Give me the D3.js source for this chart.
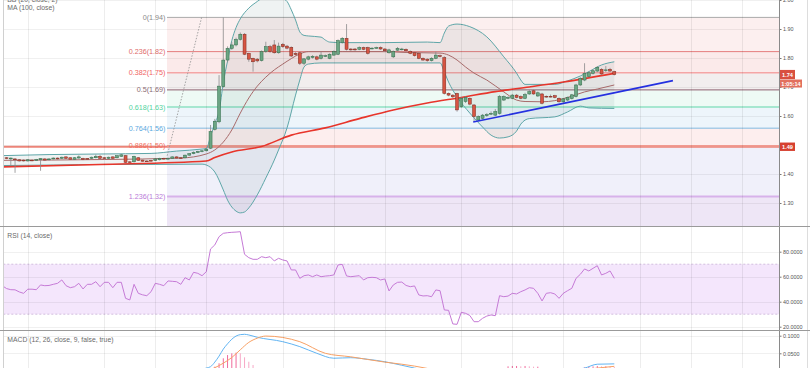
<!DOCTYPE html>
<html><head><meta charset="utf-8">
<script src="https://cdn.jsdelivr.net/npm/d3@7"></script>
<style>
html,body{margin:0;padding:0;background:#fff;overflow:hidden;}
svg{display:block;font-family:"Liberation Sans",Arial,sans-serif;}
</style></head><body>
<svg id="c" width="810" height="368"></svg>
<script>
// ---------------- DATA ----------------
const candleOpen = [
1.455,1.456,1.452,1.452,1.449,1.448,1.445,1.448,1.447,1.449,
1.452,1.449,1.452,1.455,1.454,1.459,1.456,1.451,1.455,1.454,
1.454,1.454,1.456,1.461,1.456,1.454,1.459,1.456,1.461,1.463,
1.442,1.442,1.456,1.448,1.445,1.447,1.447,1.449,1.454,1.452,
1.454,1.459,1.456,1.456,1.465,1.470,1.474,1.477,1.480,1.489,
1.554,1.580,1.701,1.793,1.833,1.845,1.864,1.882,1.816,1.799,
1.796,1.791,1.822,1.839,1.845,1.818,1.847,1.841,1.837,1.816,
1.818,1.782,1.796,1.802,1.804,1.799,1.806,1.799,1.810,1.813,
1.853,1.868,1.831,1.831,1.830,1.836,1.836,1.832,1.835,1.836,
1.831,1.818,1.804,1.827,1.829,1.830,1.822,1.818,1.816,1.799,
1.796,1.791,1.799,1.808,1.801,1.678,1.672,1.678,1.632,1.650,
1.661,1.638,1.586,1.592,1.601,1.607,1.603,1.609,1.655,1.662,
1.661,1.672,1.667,1.661,1.676,1.687,1.669,1.676,1.668,1.668,
1.670,1.661,1.649,1.655,1.660,1.667,1.707,1.724,1.736,1.747,
1.755,1.761,1.758,1.761,1.753];
const candleHigh = [
1.460,1.458,1.457,1.454,1.451,1.450,1.451,1.450,1.452,1.455,
1.454,1.454,1.457,1.457,1.460,1.461,1.457,1.458,1.464,1.456,
1.455,1.460,1.467,1.466,1.458,1.460,1.461,1.465,1.469,1.465,
1.444,1.463,1.458,1.450,1.447,1.449,1.454,1.456,1.456,1.456,
1.461,1.461,1.458,1.467,1.472,1.478,1.480,1.482,1.488,1.569,
1.590,1.741,1.940,1.840,1.855,1.870,1.888,1.886,1.818,1.801,
1.800,1.826,1.856,1.845,1.862,1.853,1.852,1.845,1.840,1.820,
1.822,1.800,1.808,1.810,1.808,1.822,1.812,1.816,1.826,1.864,
1.872,1.917,1.834,1.834,1.840,1.839,1.839,1.837,1.839,1.840,
1.834,1.832,1.826,1.838,1.835,1.833,1.826,1.821,1.819,1.802,
1.799,1.803,1.822,1.812,1.806,1.681,1.675,1.680,1.666,1.668,
1.664,1.641,1.602,1.607,1.610,1.616,1.624,1.672,1.671,1.668,
1.676,1.676,1.671,1.680,1.690,1.691,1.684,1.680,1.671,1.674,
1.673,1.664,1.662,1.667,1.676,1.711,1.734,1.782,1.754,1.760,
1.772,1.765,1.772,1.766,1.756];
const candleLow = [
1.452,1.451,1.431,1.404,1.443,1.443,1.443,1.444,1.445,1.411,
1.446,1.447,1.450,1.450,1.452,1.452,1.449,1.449,1.453,1.448,
1.449,1.452,1.454,1.452,1.452,1.452,1.452,1.454,1.459,1.438,
1.438,1.440,1.445,1.443,1.443,1.443,1.445,1.447,1.450,1.450,
1.452,1.453,1.452,1.454,1.463,1.468,1.472,1.475,1.478,1.486,
1.550,1.575,1.698,1.785,1.828,1.840,1.860,1.810,1.787,1.753,
1.785,1.788,1.818,1.818,1.815,1.815,1.835,1.830,1.803,1.808,
1.776,1.775,1.792,1.798,1.792,1.795,1.803,1.796,1.808,1.810,
1.850,1.826,1.825,1.825,1.827,1.827,1.812,1.830,1.832,1.828,
1.822,1.815,1.800,1.824,1.826,1.822,1.813,1.805,1.796,1.790,
1.787,1.788,1.796,1.802,1.674,1.668,1.662,1.615,1.628,1.645,
1.637,1.580,1.582,1.588,1.597,1.603,1.600,1.605,1.652,1.658,
1.658,1.661,1.658,1.658,1.673,1.673,1.666,1.640,1.663,1.664,
1.661,1.646,1.646,1.652,1.657,1.664,1.703,1.720,1.733,1.743,
1.751,1.742,1.752,1.752,1.740];
const candleClose = [
1.457,1.454,1.455,1.449,1.445,1.445,1.449,1.446,1.450,1.453,
1.448,1.452,1.455,1.452,1.458,1.454,1.451,1.456,1.459,1.450,
1.451,1.458,1.461,1.454,1.454,1.458,1.454,1.463,1.466,1.440,
1.440,1.461,1.447,1.444,1.444,1.445,1.452,1.454,1.452,1.454,
1.459,1.455,1.454,1.465,1.470,1.475,1.478,1.480,1.486,1.546,
1.582,1.703,1.793,1.833,1.845,1.864,1.882,1.813,1.796,1.787,
1.790,1.822,1.839,1.822,1.818,1.841,1.839,1.834,1.807,1.812,
1.782,1.797,1.804,1.806,1.796,1.810,1.808,1.813,1.822,1.860,
1.868,1.830,1.828,1.828,1.836,1.830,1.816,1.834,1.836,1.831,
1.825,1.828,1.822,1.833,1.831,1.825,1.816,1.808,1.799,1.793,
1.791,1.799,1.810,1.805,1.678,1.672,1.666,1.621,1.661,1.664,
1.641,1.598,1.598,1.603,1.605,1.609,1.615,1.667,1.667,1.664,
1.672,1.664,1.661,1.674,1.684,1.676,1.680,1.644,1.666,1.667,
1.664,1.649,1.659,1.664,1.673,1.707,1.730,1.747,1.749,1.756,
1.768,1.745,1.759,1.755,1.743];

// Bollinger Bands (20, close, 2): [candle index, price]
const bbUpperIdx = [-1,11,23,35,41,47,48,49,50,51,52,53,54,55,56,58,60,62,64,66,67,68,69,70,71,72,75,76,77,80,90,100,103,104,105,107,110,114,118,121,122,123,130,133,136,138,141,144];
const bbUpperVal = [1.463,1.467,1.469,1.471,1.479,1.486,1.488,1.530,1.575,1.615,1.715,1.790,1.860,1.905,1.935,1.972,1.995,2.015,2.025,2.005,1.995,1.966,1.931,1.890,1.878,1.876,1.872,1.862,1.855,1.853,1.853,1.855,1.853,1.886,1.910,1.917,1.908,1.873,1.804,1.748,1.724,1.709,1.709,1.721,1.738,1.753,1.776,1.787];
const bbLowerIdx = [-1,12,24,36,47,48,50,52,53,55,56,57,58,60,62,64,65,67,69,70,71,72,75,103,104,105,107,110,113,115,117,119,121,122,123,124,130,133,136,138,144];
const bbLowerVal = [1.429,1.431,1.433,1.433,1.434,1.431,1.407,1.345,1.310,1.272,1.266,1.269,1.283,1.328,1.386,1.448,1.483,1.559,1.672,1.724,1.769,1.779,1.783,1.783,1.752,1.717,1.666,1.610,1.562,1.534,1.524,1.528,1.548,1.572,1.586,1.591,1.597,1.614,1.634,1.628,1.626];
const bbMidIdx = [-1,24,42,48,50,52,54,56,58,60,62,64,66,68,70,72,80,90,95,103,105,107,109,111,114,118,121,123,127,130,133,137,140,144];
const bbMidVal = [1.447,1.450,1.455,1.469,1.483,1.510,1.552,1.610,1.662,1.703,1.734,1.759,1.779,1.798,1.814,1.822,1.822,1.822,1.819,1.817,1.810,1.793,1.769,1.748,1.724,1.683,1.655,1.650,1.649,1.653,1.664,1.683,1.693,1.707];

// MA (100, close)
const maIdx = [-1,23,48,50,54,61,68,76,84,92,100,108,116,124,132,144];
const maVal = [1.424,1.433,1.445,1.457,1.476,1.495,1.534,1.559,1.591,1.621,1.645,1.664,1.684,1.700,1.717,1.747];

// Fibonacci retracement
const fibLevels = [0,0.236,0.382,0.5,0.618,0.764,0.886,1.236];
const fibPrices = [1.940,1.822,1.749,1.690,1.631,1.558,1.497,1.322];
const fibStartIdx = 38.75;
const fibTrendIdx = [38.8,46.9];
const fibTrendVal = [1.463,1.940];

// drawn trend line & horizontal line
const trendIdx = [110.8,157.8];
const trendVal = [1.579,1.722];
const hlinePrice = 1.494;
const hlineLabel = "1.49";
const lastPriceLabel = "1.74";
const countdownLabel = "1:05:14";

// RSI (14, close)
const rsiVal = [
52.8,50.5,49.6,49.5,47.8,46.7,50.0,50.0,49.6,53.4,
52.8,53.0,53.9,54.7,57.4,52.8,51.2,52.0,54.7,50.2,
53.9,53.9,56.0,52.0,55.5,55.5,51.2,55.5,55.5,42.7,
41.4,53.9,46.7,45.5,44.8,48.0,54.7,53.9,52.8,56.6,
56.3,56.0,53.9,59.2,57.4,63.5,62.7,60.8,64.0,82.2,
85.4,92.0,94.7,95.2,95.5,95.7,96.0,77.9,75.2,73.9,
73.9,76.0,75.2,76.0,72.6,74.7,73.4,72.6,65.4,65.4,
58.7,60.8,61.4,60.0,61.4,60.0,60.5,60.8,61.4,69.4,
69.9,60.6,60.0,60.4,60.8,57.4,59.2,59.5,59.2,57.4,
58.2,48.6,53.4,55.5,55.7,53.0,52.0,52.6,45.4,44.6,
44.8,44.0,49.4,48.8,33.4,33.1,22.2,21.9,31.5,30.7,
29.0,24.0,24.0,26.7,28.5,29.4,28.8,44.8,44.0,44.5,
46.7,46.2,48.0,49.4,51.2,50.7,46.7,40.6,46.7,47.2,
46.2,42.7,46.7,48.8,50.7,58.7,61.9,66.2,64.6,66.7,
68.8,61.4,62.7,64.6,58.7];

// MACD (12, 26, close, 9)
const macdIdx = [40,44,46,48,49,50,51,52,53,54,55,56,57,58,60,66,70,74,78,82,86,90,94,97,102,106,120,130,134,137,140,144];
const macdVal = [-0.004,0.000,0.002,0.008,0.012,0.025,0.042,0.062,0.077,0.090,0.099,0.103,0.104,0.102,0.0955,0.083,0.069,0.050,0.036,0.0375,0.033,0.026,0.016,0.008,-0.005,-0.040,-0.030,-0.005,0.002,0.008,0.019,0.020];
const signalIdx = [44,48,50,52,54,56,58,60,62,64,66,70,76,82,90,94,100,104,110,130,136,138,140,144];
const signalVal = [-0.004,0.001,0.009,0.022,0.038,0.060,0.081,0.093,0.099,0.098,0.095,0.083,0.050,0.040,0.025,0.019,0.007,-0.005,-0.020,-0.010,0.002,0.005,0.008,0.013];
const histIdx = [50,51,52,53,54,55,56,57,58,59,60,119,120,121,122,123,124,125,126,137,138,139,140,141,142,143,144];
const histVal = [0.012,0.0216,0.0358,0.045,0.050,0.052,0.050,0.0386,0.026,0.0168,0.008,0.013,0.014,0.014,0.013,0.014,0.013,0.012,0.012,0.010,0.012,0.013,0.014,0.013,0.013,0.012,0.011];

// ticks
const priceTicks = [2.0,1.9,1.8,1.7,1.6,1.5,1.4,1.3];
const rsiTicks = [80,60,40,20];
const macdTicks = [0.1,0.05];
const gridIdx = [6,24,36,48,66,78,90,108,120,132,150,162,174];

// ---------------- LAYOUT ----------------
const W = 810, H = 368;
const plotL = 3.3, plotR = 779;
const mainBot = 226, rsiTop = 226, rsiBot = 330.7, macdTop = 330.7;

const x = d3.scaleLinear().domain([0,144]).range([2.3,614.3]);
const yP = d3.scaleLinear().domain([2.0,1.2]).range([0,232]);
const yR = d3.scaleLinear().domain([100,0]).range([226.7,351.7]);
const yM = d3.scaleLinear().domain([0.1,0]).range([335.7,370.9]);

const svg = d3.select('#c');
const defs = svg.append('defs');
function clip(id,x0,y0,x1,y1){
  defs.append('clipPath').attr('id',id).append('rect')
    .attr('x',x0).attr('y',y0).attr('width',x1-x0).attr('height',y1-y0);
}
clip('cMain',plotL,0,plotR,mainBot);
clip('cRsi',plotL,rsiTop,plotR,rsiBot);
clip('cMacd',plotL,macdTop,plotR,H);
clip('cAll',plotL,0,plotR,H);

svg.append('rect').attr('width',W).attr('height',H).attr('fill','#fff');

const gMain = svg.append('g').attr('clip-path','url(#cMain)');
const gRsi = svg.append('g').attr('clip-path','url(#cRsi)');
const gMacd = svg.append('g').attr('clip-path','url(#cMacd)');

// fib backgrounds
const fibBg = ['#fcefef','#fbeaea','#f2eeee','#eefaf5','#edf5fb','#fdeeee','#f0f0fa','#eee6f6'];
const fibLine = ['#aaaaaa','#e57c7c','#f5a5a5','#8e6270','#a6e7d0','#80b9e0','#f09a90','#d7b2ea'];
const fibLineW = [1,1,1.6,1,2,1,1.6,2];
const fibText = ['#8a8a8a','#e06a6a','#f06262','#8a6a72','#52d3a0','#5aa8de','#f26e60','#b97ad8'];
const fx0 = x(fibStartIdx);
fibPrices.forEach((p,k)=>{
  const yTop = yP(p);
  const yBot = k < fibPrices.length-1 ? yP(fibPrices[k+1]) : mainBot;
  gMain.append('rect').attr('x',fx0).attr('y',yTop).attr('width',plotR-fx0).attr('height',yBot-yTop).attr('fill',fibBg[k]);
});

// RSI band
gRsi.append('rect').attr('x',plotL).attr('y',yR(70)).attr('width',plotR-plotL).attr('height',yR(30)-yR(70)).attr('fill','#f4e6fc');

// grids
const gGrid = svg.append('g').attr('clip-path','url(#cAll)').attr('shape-rendering','crispEdges');
gridIdx.forEach(i=>{
  gGrid.append('line').attr('x1',Math.round(x(i))+0.5).attr('x2',Math.round(x(i))+0.5).attr('y1',0).attr('y2',H).attr('stroke','rgba(0,0,0,0.07)');
});
priceTicks.forEach(p=>{
  gMain.append('line').attr('x1',plotL).attr('x2',plotR).attr('y1',Math.round(yP(p))+0.5).attr('y2',Math.round(yP(p))+0.5).attr('stroke','rgba(0,0,0,0.06)');
});
rsiTicks.forEach(v=>{
  gRsi.append('line').attr('x1',plotL).attr('x2',plotR).attr('y1',Math.round(yR(v))+0.5).attr('y2',Math.round(yR(v))+0.5).attr('stroke','rgba(0,0,0,0.06)');
});
macdTicks.forEach(v=>{
  gMacd.append('line').attr('x1',plotL).attr('x2',plotR).attr('y1',Math.round(yM(v))+0.5).attr('y2',Math.round(yM(v))+0.5).attr('stroke','rgba(0,0,0,0.06)');
});

// horizontal line 1.49
gMain.append('line').attr('x1',plotL).attr('x2',plotR).attr('y1',yP(hlinePrice)).attr('y2',yP(hlinePrice))
  .attr('stroke','#ec8478').attr('stroke-width',1.8);
// fib lines
fibPrices.forEach((p,k)=>{
  gMain.append('line').attr('x1',fx0).attr('x2',plotR).attr('y1',yP(p)).attr('y2',yP(p))
    .attr('stroke',fibLine[k]).attr('stroke-width',fibLineW[k]);
});

// Bollinger bands
const pts = (idx,val)=>idx.map((d,k)=>[x(d),yP(val[k])]);
const lineC = d3.line().curve(d3.curveMonotoneX);
const up = pts(bbUpperIdx,bbUpperVal), lo = pts(bbLowerIdx,bbLowerVal);
const lowerBack = lo.slice().reverse();
const fillD = lineC(up) + 'L' + lineC(lowerBack).slice(1) + 'Z';
gMain.append('path').attr('d',fillD).attr('fill','rgba(40,90,95,0.075)');
gMain.append('path').attr('d',lineC(up)).attr('fill','none').attr('stroke','#5ea6a8').attr('stroke-width',1);
gMain.append('path').attr('d',lineC(lo)).attr('fill','none').attr('stroke','#5ea6a8').attr('stroke-width',1);
gMain.append('path').attr('d',lineC(pts(bbMidIdx,bbMidVal))).attr('fill','none').attr('stroke','#a86a6a').attr('stroke-width',1);

// MA 100
gMain.append('path').attr('d',lineC(pts(maIdx,maVal))).attr('fill','none').attr('stroke','#e8352b').attr('stroke-width',1.6);

// fib trend dotted
gMain.append('path').attr('d',d3.line()(pts(fibTrendIdx,fibTrendVal))).attr('fill','none')
  .attr('stroke','#9a9a9a').attr('stroke-width',0.9).attr('stroke-dasharray','1.5,1.5');

// candles
const gC = gMain.append('g');
candleClose.forEach((c,i)=>{
  const o = candleOpen[i], h = candleHigh[i], l = candleLow[i];
  const cx = x(i);
  const upC = c >= o;
  gC.append('line').attr('x1',cx).attr('x2',cx).attr('y1',yP(h)).attr('y2',yP(l)).attr('stroke','#8a8a8c').attr('stroke-width',0.8);
  const yt = yP(Math.max(o,c)), yb = yP(Math.min(o,c));
  gC.append('rect').attr('x',cx-1.5).attr('y',yt).attr('width',3).attr('height',Math.max(0.8,yb-yt))
    .attr('fill',upC?'#6ba583':'#d75442').attr('stroke',upC?'#2f6a48':'#7a2a20').attr('stroke-width',0.5);
});

// blue trend line
gMain.append('path').attr('d',d3.line()(pts(trendIdx,trendVal))).attr('fill','none')
  .attr('stroke','#2530e0').attr('stroke-width',1.6);

// fib labels
fibPrices.forEach((p,k)=>{
  gMain.append('text').attr('x',fx0-1.5).attr('y',yP(p)).attr('dy','0.35em').attr('text-anchor','end')
    .attr('font-size','7.2px').attr('fill',fibText[k]).text(`${fibLevels[k]}(${p.toFixed(2)})`);
});

// legends
const legend = (t,y)=>svg.append('text').attr('x',7.3).attr('y',y).attr('font-size','6.8px').attr('fill','#6a6a6a').text(t);
legend('BB (20, close, 2)',1.6);
legend('MA (100, close)',9.8);
legend('RSI (14, close)',238);
legend('MACD (12, 26, close, 9, false, true)',342);

// RSI
[70,30].forEach(v=>{
  gRsi.append('line').attr('x1',plotL).attr('x2',plotR).attr('y1',yR(v)).attr('y2',yR(v))
    .attr('stroke','#c9b1d8').attr('stroke-width',0.8).attr('stroke-dasharray','2,2');
});
gRsi.append('path').attr('d',d3.line().x((d,i)=>x(i)).y(d=>yR(d))(rsiVal)).attr('fill','none')
  .attr('stroke','#c57ad6').attr('stroke-width',1);

// MACD
function pts2(idx,val){return idx.map((d,k)=>[x(d),yM(val[k])]);}
histIdx.forEach((i,k)=>{
  const v = histVal[k];
  gMacd.append('line').attr('x1',x(i)).attr('x2',x(i)).attr('y1',yM(0)).attr('y2',yM(v))
    .attr('stroke', (k>0 && histIdx[k-1]===i-1 && v<histVal[k-1]) ? '#f7a8c6' : '#f06a9c').attr('stroke-width',1);
});
gMacd.append('path').attr('d',lineC(pts2(macdIdx,macdVal))).attr('fill','none').attr('stroke','#62b4f2').attr('stroke-width',1);
gMacd.append('path').attr('d',lineC(pts2(signalIdx,signalVal))).attr('fill','none').attr('stroke','#f7a064').attr('stroke-width',1);

// axes
function styleAxis(g){
  g.select('.domain').remove();
  g.selectAll('text').attr('font-size','5.4px').attr('fill','#555').attr('font-family','"Liberation Sans",Arial,sans-serif');
  g.selectAll('line').attr('stroke','#777');
}
const aP = svg.append('g').attr('transform',`translate(${plotR},0)`)
  .call(d3.axisRight(yP).tickValues(priceTicks).tickFormat(d3.format('.2f')).tickSize(2.5).tickPadding(1.5));
styleAxis(aP);
const aR = svg.append('g').attr('transform',`translate(${plotR},0)`)
  .call(d3.axisRight(yR).tickValues(rsiTicks).tickFormat(d3.format('.4f')).tickSize(2.5).tickPadding(1.5));
styleAxis(aR);
const aM = svg.append('g').attr('transform',`translate(${plotR},0)`)
  .call(d3.axisRight(yM).tickValues(macdTicks).tickFormat(d3.format('.4f')).tickSize(2.5).tickPadding(1.5));
styleAxis(aM);

// price label boxes
function box(yc,h,w,fill,txt){
  svg.append('rect').attr('x',plotR+1).attr('y',yc-h/2).attr('width',w).attr('height',h).attr('fill',fill);
  svg.append('text').attr('x',plotR+1+w/2).attr('y',yc).attr('dy','0.36em').attr('text-anchor','middle')
    .attr('font-size','5.6px').attr('font-weight','bold').attr('fill','#fff').text(txt);
}
const yLast = yP(candleClose[candleClose.length-1]);
box(yLast,9.2,15,'#d9503f',lastPriceLabel);
box(yLast+9,8,22,'#e2705f',countdownLabel);
box(yP(hlinePrice),8.4,15,'#d6402f',hlineLabel);

// frame lines
const frame = svg.append('g').attr('shape-rendering','crispEdges');
frame.append('line').attr('x1',plotR+0.5).attr('x2',plotR+0.5).attr('y1',0).attr('y2',H).attr('stroke','#8a8a8a');
frame.append('line').attr('x1',3.5).attr('x2',3.5).attr('y1',0).attr('y2',H).attr('stroke','#d0d0d0');
frame.append('line').attr('x1',807.5).attr('x2',807.5).attr('y1',0).attr('y2',H).attr('stroke','#dddddd');
frame.append('line').attr('x1',0).attr('x2',W).attr('y1',226.5).attr('y2',226.5).attr('stroke','#9a9a9a');
frame.append('line').attr('x1',0).attr('x2',W).attr('y1',330.5).attr('y2',330.5).attr('stroke','#9a9a9a');
</script>
</body></html>
